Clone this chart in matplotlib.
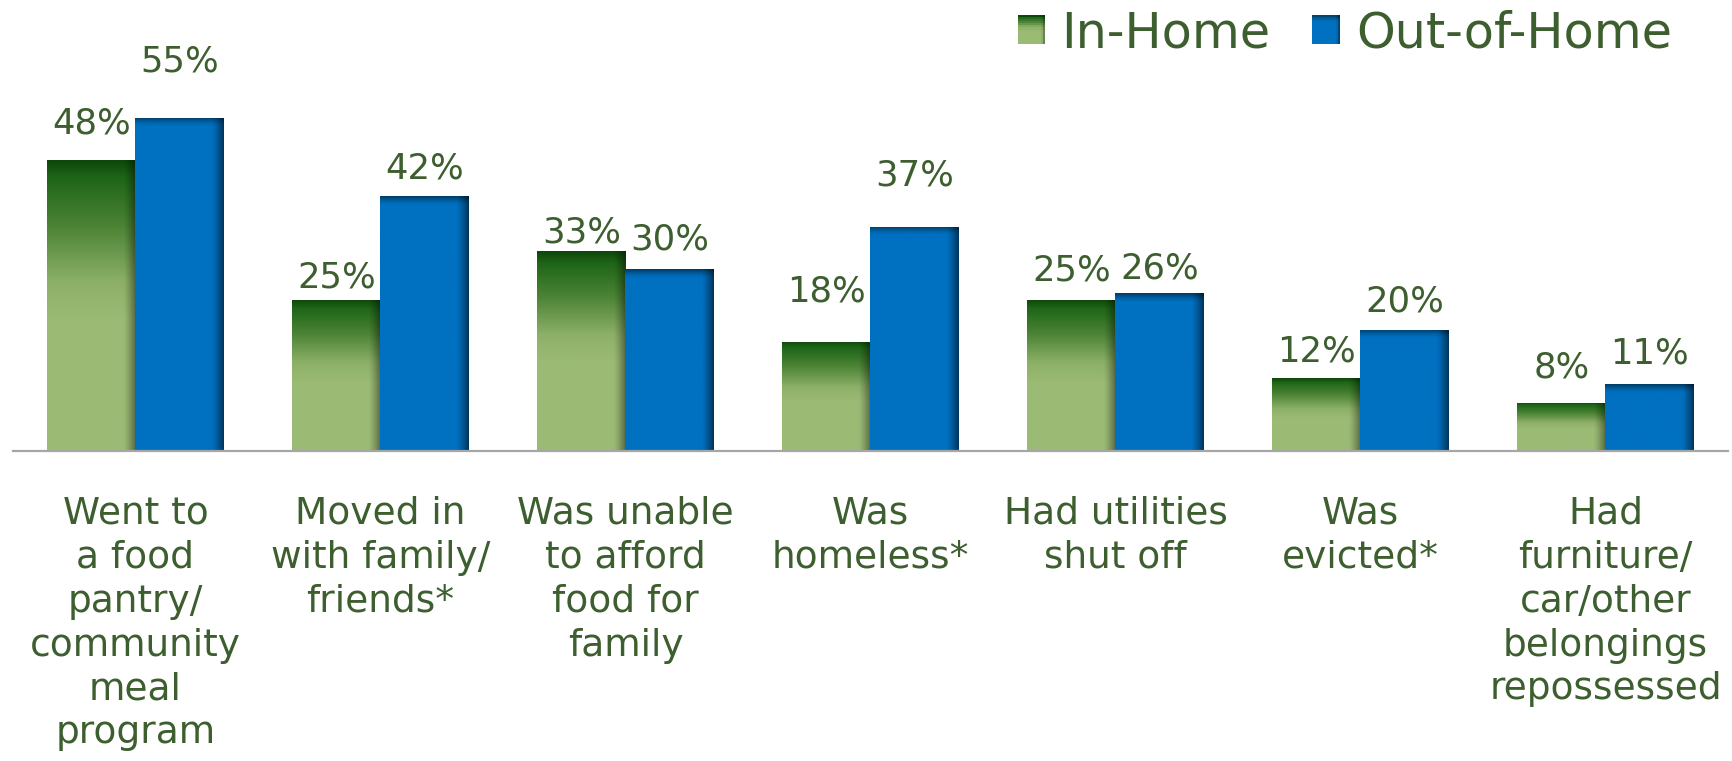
import numpy as np
import matplotlib
matplotlib.use("Agg")
import matplotlib.pyplot as plt
from matplotlib.colors import to_rgb
from matplotlib.legend_handler import HandlerBase
from matplotlib.patches import Rectangle

# ---- data -------------------------------------------------------------
categories = [
    "Went to\na food\npantry/\ncommunity\nmeal\nprogram",
    "Moved in\nwith family/\nfriends*",
    "Was unable\nto afford\nfood for\nfamily",
    "Was\nhomeless*",
    "Had utilities\nshut off",
    "Was\nevicted*",
    "Had\nfurniture/\ncar/other\nbelongings\nrepossessed",
]
in_home = [48, 25, 33, 18, 25, 12, 8]
out_of_home = [55, 42, 30, 37, 26, 20, 11]
series_names = ["In-Home", "Out-of-Home"]

# ---- layout / style -----------------------------------------------------
# lift of each value label's baseline above its bar top (pixels)
lift_in = [27, 12, 9, 40, 19, 17, 25]
lift_out = [46, 18, 20, 41, 15, 18, 21]

TEXT = "#3D5E2E"
BAR_W = 0.36
W_PX, H_PX, DPI = 1733, 761, 100

plt.rcParams["font.family"] = ["DejaVu Sans"]

GREEN_STOPS = [(0.00, "#0E470A"), (0.06, "#1F6618"), (0.22, "#4A8234"),
               (0.42, "#8DB068"), (0.55, "#9BBB75"), (1.00, "#9BBB75")]
BLUE = "#0070C0"


def ramp(stops, n):
    t = np.linspace(0, 1, n)
    pos = [p for p, _ in stops]
    cols = np.array([to_rgb(c) for _, c in stops])
    return np.stack([np.interp(t, pos, cols[:, k]) for k in range(3)], axis=1)


def edge_factor(ncols, start=0.86, depth=0.5):
    x = (np.arange(ncols) + 0.5) / ncols
    s = np.clip((x - start) / (1 - start), 0, 1)
    return 1 - depth * s ** 1.3


def green_fill(nrows, ncols):
    v = ramp(GREEN_STOPS, nrows)
    img = v[:, None, :] * edge_factor(ncols, 0.86, 0.45)[None, :, None]
    return np.clip(img, 0, 1)


def blue_fill(nrows, ncols, band_frac):
    base = np.array(to_rgb(BLUE))
    t = (np.arange(nrows) + 0.5) / nrows
    top = 1 - 0.5 * np.clip(1 - t / max(band_frac, 1e-3), 0, 1) ** 1.5
    img = base[None, None, :] * top[:, None, None] * \
        edge_factor(ncols, 0.86, 0.55)[None, :, None]
    return np.clip(img, 0, 1)


class GradientSquare(HandlerBase):
    def __init__(self, img):
        super().__init__()
        self.img = img

    def create_artists(self, legend, orig_handle, xdescent, ydescent,
                       width, height, fontsize, trans):
        ny, nx = self.img.shape[:2]
        dw, dh = width / nx, height / ny
        arts = []
        for r in range(ny):
            for c in range(nx):
                arts.append(Rectangle(
                    (-xdescent + c * dw, -ydescent + height - (r + 1) * dh),
                    dw * 1.02, dh * 1.02, facecolor=self.img[r, c],
                    edgecolor="none", linewidth=0, antialiased=False,
                    transform=trans))
        return arts


# ---- figure -------------------------------------------------------------
fig = plt.figure(figsize=(W_PX / DPI, H_PX / DPI), dpi=DPI)
px_per_unit = 6.06
ymax = 60
ax = fig.add_axes([13 / W_PX, (H_PX - 451) / H_PX,
                   (7 * 245) / W_PX, ymax * px_per_unit / H_PX])
ax.set_xlim(-0.5, len(categories) - 0.5)
ax.set_ylim(0, ymax)

x = np.arange(len(categories))
bars_in = ax.bar(x - BAR_W / 2, in_home, BAR_W, color="#6E9A50",
                 linewidth=0, zorder=2)
bars_out = ax.bar(x + BAR_W / 2, out_of_home, BAR_W, color=BLUE,
                  linewidth=0, zorder=2)

# gradient fills drawn inside each bar
for patch in bars_in:
    x0, w, h = patch.get_x(), patch.get_width(), patch.get_height()
    im = ax.imshow(green_fill(200, 60), extent=(x0, x0 + w, 0, h),
                   aspect="auto", origin="upper", interpolation="bilinear",
                   zorder=3)
    im.set_clip_path(patch)
for patch in bars_out:
    x0, w, h = patch.get_x(), patch.get_width(), patch.get_height()
    band = 9 / (h * px_per_unit)
    im = ax.imshow(blue_fill(200, 60, band), extent=(x0, x0 + w, 0, h),
                   aspect="auto", origin="upper", interpolation="bilinear",
                   zorder=3)
    im.set_clip_path(patch)

ax.set_xlim(-0.5, len(categories) - 0.5)
ax.set_ylim(0, ymax)

# value labels
for patch, v, lift in zip(bars_in, in_home, lift_in):
    ax.annotate(f"{v}%", xy=(patch.get_x() + patch.get_width() / 2, v),
                xytext=(0, lift), textcoords="offset pixels", ha="center",
                va="baseline", fontsize=25.5, color=TEXT,
                annotation_clip=False)
for patch, v, lift in zip(bars_out, out_of_home, lift_out):
    ax.annotate(f"{v}%", xy=(patch.get_x() + patch.get_width() / 2, v),
                xytext=(0, lift), textcoords="offset pixels", ha="center",
                va="baseline", fontsize=25.5, color=TEXT,
                annotation_clip=False)

# category labels
for i, cat in enumerate(categories):
    ax.annotate(cat, xy=(i, 0), xytext=(0, -45), textcoords="offset pixels",
                ha="center", va="top", multialignment="center",
                fontsize=27, linespacing=1.28, color=TEXT,
                annotation_clip=False)

for side in ("left", "right", "top"):
    ax.spines[side].set_visible(False)
ax.spines["bottom"].set_color("#A6A6A6")
ax.spines["bottom"].set_linewidth(1.6)
ax.spines["bottom"].set_zorder(4)
ax.set_xticks([])
ax.set_yticks([])

# legend with gradient swatches
h_in = Rectangle((0, 0), 1, 1)
h_out = Rectangle((0, 0), 1, 1)
fig.legend(handles=[h_in, h_out], labels=series_names,
           handler_map={h_in: GradientSquare(green_fill(14, 14)),
                        h_out: GradientSquare(blue_fill(14, 14, 0.25))},
           loc="upper left", bbox_to_anchor=(1018 / W_PX, 1 - 9 / H_PX),
           ncol=2, frameon=False, fontsize=35.5, labelcolor=TEXT,
           handlelength=0.55, handleheight=0.55, handletextpad=0.33,
           columnspacing=0.85, borderpad=0, borderaxespad=0)

fig.savefig("out.png", dpi=DPI)
